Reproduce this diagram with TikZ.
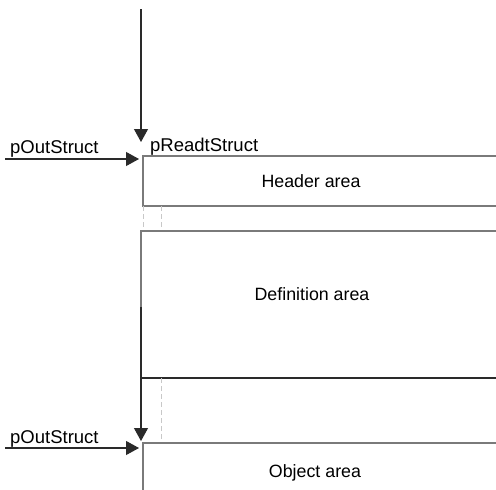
\documentclass[tikz,border=0pt]{standalone}
\usepackage{fontspec}
\setmainfont{Liberation Sans}
\usetikzlibrary{arrows.meta}
\definecolor{boxgray}{HTML}{7A7A7A}
\definecolor{boxdark}{HTML}{2A2A2A}
\definecolor{guide}{HTML}{C8C8C8}
\tikzset{
  lbl/.style={font=\fontsize{18.5}{21}\selectfont, inner sep=0pt, anchor=base west},
  area/.style={font=\fontsize{17.8}{21}\selectfont, inner sep=0pt, anchor=base},
  ptr/.style={draw=boxdark, line width=1.1pt, -{Triangle[length=13pt,width=14pt]}},
  edge/.style={draw=boxgray, line width=1.3pt},
  darkedge/.style={draw=boxdark, line width=1.2pt},
  guideline/.style={draw=guide, line width=0.9pt, dash pattern=on 5pt off 3pt},
}
\begin{document}
\begin{tikzpicture}[x=1pt,y=-1pt]
\useasboundingbox (0,0) rectangle (496,490);

% header block
\draw[edge] (496,156) -- (143,156) -- (143,206) -- (496,206);
\node[area] (hdr) at (311,187) {Header area};

% guides between header and definition block
\draw[guideline] (143,206) -- (143,231);
\draw[guideline] (161,206) -- (161,231);

% definition block
\draw[edge] (496,231) -- (141,231) -- (141,378);
\draw[darkedge] (141,378) -- (496,378);
\node[area] (def) at (312,300) {Definition area};

% guide below definition block
\draw[guideline] (161,378) -- (161,442);

% object block
\draw[edge] (496,443) -- (143,443) -- (143,490);
\node[area] (obj) at (315,477) {Object area};

% pointers into the header block
\coordinate (topstart) at (141,9);
\coordinate (toptip) at (141,142);
\draw[ptr] (topstart) -- (toptip);
\node[lbl] (rd) at (150,151) {pReadtStruct};
\coordinate (out1start) at (5,159);
\coordinate (out1tip) at (139,159);
\draw[ptr] (out1start) -- (out1tip);
\node[lbl] (out1) at (10,153) {pOutStruct};

% pointers into the object block
\coordinate (midstart) at (141,307);
\coordinate (midtip) at (141,441);
\draw[ptr] (midstart) -- (midtip);
\coordinate (out2start) at (5,448);
\coordinate (out2tip) at (139,448);
\draw[ptr] (out2start) -- (out2tip);
\node[lbl] (out2) at (10,443) {pOutStruct};
\end{tikzpicture}
\end{document}
